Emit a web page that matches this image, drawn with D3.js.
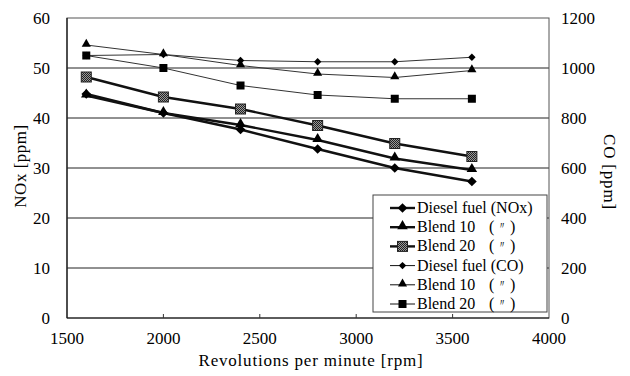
<!DOCTYPE html>
<html lang="en">
<head>
  <meta charset="UTF-8">
  <title>NOx and CO vs rpm</title>
  <script src="https://d3js.org/d3.v7.min.js"></script>
  <style>
    body { margin: 0; background: #fff; }
    text { font-family: "Liberation Serif", serif; fill: #000; }
  </style>
</head>
<body>
  <div id="chart"></div>
  <script>
    // Data
    const rpm = [1600, 2000, 2400, 2800, 3200, 3600];
    const noxDiesel = [44.8, 41.0, 37.7, 33.8, 30.0, 27.3];
    const noxBlend10 = [44.5, 41.0, 38.6, 35.6, 31.9, 29.6];
    const noxBlend20 = [48.2, 44.2, 41.8, 38.5, 34.9, 32.3];
    const coDiesel = [1050, 1054, 1030, 1025, 1025, 1043];
    const coBlend10 = [1092, 1054, 1010, 976, 962, 990];
    const coBlend20 = [1050, 1000, 930, 892, 877, 877];

    const xTicks = [1500, 2000, 2500, 3000, 3500, 4000];
    const noxTicks = [0, 10, 20, 30, 40, 50, 60];
    const coTicks = [0, 200, 400, 600, 800, 1000, 1200];

    const legendNames = ["Diesel fuel (NOx)", "Blend 10", "Blend 20", "Diesel fuel (CO)", "Blend 10", "Blend 20"];

    const W = 630, H = 376;
    const plot = { left: 67, right: 549, top: 18, bottom: 318 };

    const svg = d3.select("#chart").append("svg")
      .attr("width", W).attr("height", H);

    const x = d3.scaleLinear().domain([1500, 4000]).range([plot.left, plot.right]);
    const yL = d3.scaleLinear().domain([0, 60]).range([plot.bottom, plot.top]);
    const yR = d3.scaleLinear().domain([0, 1200]).range([plot.bottom, plot.top]);

    // gridlines
    svg.append("g").selectAll("line")
      .data(noxTicks.filter(d => d > 0 && d < 60))
      .enter().append("line")
      .attr("x1", plot.left).attr("x2", plot.right)
      .attr("y1", d => yL(d)).attr("y2", d => yL(d))
      .attr("stroke", "#222").attr("stroke-width", 1);

    // plot frame
    svg.append("rect")
      .attr("x", plot.left).attr("y", plot.top)
      .attr("width", plot.right - plot.left).attr("height", plot.bottom - plot.top)
      .attr("fill", "none").attr("stroke", "#555").attr("stroke-width", 1);
    svg.append("line")
      .attr("x1", plot.left).attr("x2", plot.left)
      .attr("y1", plot.top).attr("y2", plot.bottom)
      .attr("stroke", "#111").attr("stroke-width", 1.2);
    svg.append("line")
      .attr("x1", plot.left).attr("x2", plot.right)
      .attr("y1", plot.bottom).attr("y2", plot.bottom)
      .attr("stroke", "#111").attr("stroke-width", 1.2);

    // x ticks (small, inside)
    svg.append("g").selectAll("line")
      .data(xTicks.slice(1, -1))
      .enter().append("line")
      .attr("x1", d => x(d)).attr("x2", d => x(d))
      .attr("y1", plot.bottom).attr("y2", plot.bottom - 4)
      .attr("stroke", "#333");

    // tick labels
    svg.append("g").selectAll("text")
      .data(xTicks).enter().append("text")
      .attr("font-size", 17)
      .attr("x", d => x(d)).attr("y", 344)
      .attr("text-anchor", "middle")
      .text(d => d);

    svg.append("g").selectAll("text")
      .data(noxTicks).enter().append("text")
      .attr("font-size", 17)
      .attr("x", 50).attr("y", d => yL(d) + 6)
      .attr("text-anchor", "end")
      .text(d => d);

    svg.append("g").selectAll("text")
      .data(coTicks).enter().append("text")
      .attr("font-size", 17)
      .attr("x", 561).attr("y", d => yR(d) + 6)
      .attr("text-anchor", "start")
      .text(d => d);

    // axis titles
    svg.append("text").attr("font-size", 17)
      .attr("letter-spacing", 0.8)
      .attr("x", 311).attr("y", 366).attr("text-anchor", "middle")
      .text("Revolutions per minute [rpm]");
    svg.append("text").attr("font-size", 17)
      .attr("letter-spacing", 0.5)
      .attr("transform", "translate(26,166) rotate(-90)")
      .attr("text-anchor", "middle")
      .text("NOx [ppm]");
    svg.append("text").attr("font-size", 17)
      .attr("letter-spacing", 0.8)
      .attr("transform", "translate(604,172) rotate(90)")
      .attr("text-anchor", "middle")
      .text("CO [ppm]");

    // series
    const series = [
      { values: noxDiesel, y: yL, thick: true, shape: "diamond" },
      { values: noxBlend10, y: yL, thick: true, shape: "triangle" },
      { values: noxBlend20, y: yL, thick: true, shape: "hatched" },
      { values: coDiesel, y: yR, thick: false, shape: "diamond" },
      { values: coBlend10, y: yR, thick: false, shape: "triangle" },
      { values: coBlend20, y: yR, thick: false, shape: "square" }
    ];

    // hatched fill for the blend 20 NOx marker
    const pat = svg.append("defs").append("pattern").attr("id", "hatch")
      .attr("width", 2).attr("height", 2).attr("patternUnits", "userSpaceOnUse");
    pat.append("rect").attr("width", 2).attr("height", 2).attr("fill", "#999");
    pat.append("rect").attr("width", 1).attr("height", 1).attr("fill", "#222");
    pat.append("rect").attr("x", 1).attr("y", 1).attr("width", 1).attr("height", 1).attr("fill", "#222");

    function drawMarker(g, shape, cx, cy, thick) {
      const s = thick ? 5 : 4;
      if (shape === "diamond") {
        g.append("path")
          .attr("d", d3.symbol().type(d3.symbolDiamond2).size(thick ? 60 : 35)())
          .attr("transform", `translate(${cx},${cy})`)
          .attr("fill", "#000");
      } else if (shape === "triangle") {
        g.append("path")
          .attr("d", d3.symbol().type(d3.symbolTriangle).size(thick ? 48 : 36)())
          .attr("transform", `translate(${cx},${cy - 1})`)
          .attr("fill", "#000");
      } else if (shape === "hatched") {
        g.append("rect")
          .attr("x", cx - s).attr("y", cy - s)
          .attr("width", 2 * s).attr("height", 2 * s)
          .attr("fill", "url(#hatch)").attr("stroke", "#222").attr("stroke-width", 1);
      } else {
        g.append("rect")
          .attr("x", cx - s).attr("y", cy - s)
          .attr("width", 2 * s).attr("height", 2 * s)
          .attr("fill", "#000");
      }
    }

    const line = d3.line();
    series.forEach(sr => {
      const pts = rpm.map((r, i) => [x(r), sr.y(sr.values[i])]);
      const g = svg.append("g");
      g.append("path")
        .attr("d", line(pts))
        .attr("fill", "none")
        .attr("stroke", sr.thick ? "#111" : "#333")
        .attr("stroke-width", sr.thick ? 2.4 : 1);
      pts.forEach(p => drawMarker(g, sr.shape, p[0], p[1], sr.thick));
    });

    // legend
    const lg = svg.append("g");
    lg.append("rect")
      .attr("x", 373).attr("y", 195).attr("width", 174).attr("height", 117)
      .attr("fill", "#fff").attr("stroke", "#444").attr("stroke-width", 1);
    series.forEach((sr, i) => {
      const cy = 208 + i * 19.2;
      const g = lg.append("g");
      g.append("line")
        .attr("x1", 390).attr("x2", 415).attr("y1", cy).attr("y2", cy)
        .attr("stroke", "#111").attr("stroke-width", sr.thick ? 2.4 : 1);
      drawMarker(g, sr.shape, 402.5, cy, sr.thick);
      g.append("text").attr("font-size", 16)
        .attr("x", 417).attr("y", cy + 5)
        .text(legendNames[i]);
      if (i > 0 && i !== 3) {
        g.append("text").attr("font-size", 16)
          .attr("x", 489).attr("y", cy + 5).text("(");
        g.append("text").attr("font-size", 10)
          .attr("font-family", "'Noto Sans CJK JP', sans-serif")
          .attr("x", 497).attr("y", cy + 2).text("\u3003");
        g.append("text").attr("font-size", 16)
          .attr("x", 510).attr("y", cy + 5).text(")");
      }
    });
  </script>
</body>
</html>
